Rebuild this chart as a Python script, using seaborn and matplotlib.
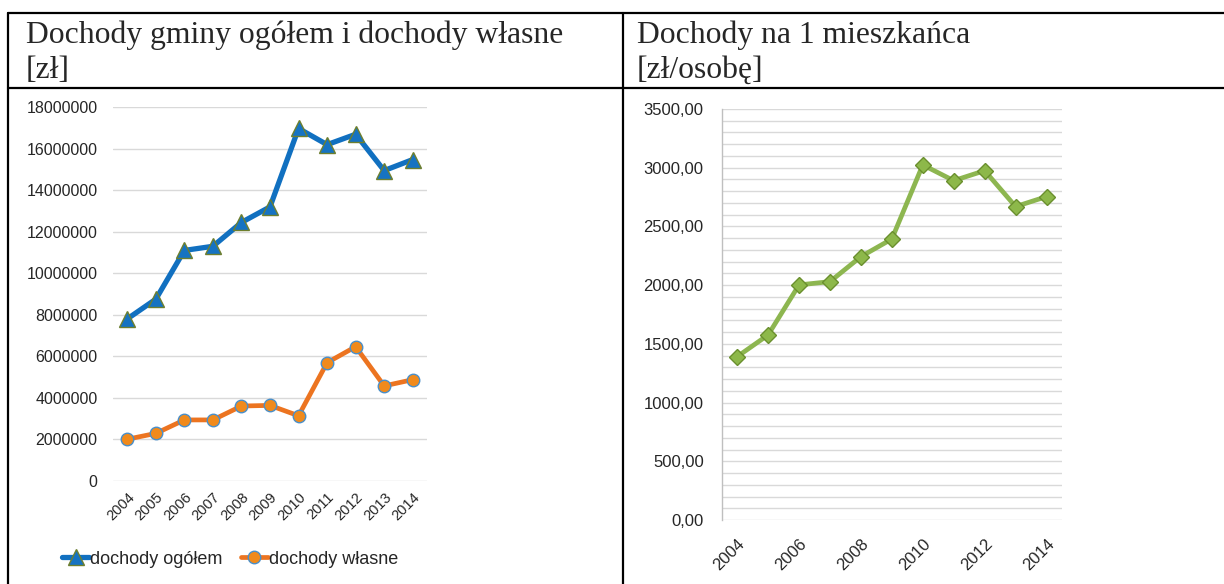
import numpy as np
import pandas as pd
import matplotlib.pyplot as plt
import matplotlib.ticker as mticker
from matplotlib.lines import Line2D
import seaborn as sns

# ─── Data ────────────────────────────────────────────────────────
years = [2004, 2005, 2006, 2007, 2008, 2009, 2010, 2011, 2012, 2013, 2014]
dochody_ogolem = [7800000, 8750000, 11100000, 11300000, 12450000, 13200000,
                  16980000, 16200000, 16700000, 14950000, 15480000]
dochody_wlasne = [2000000, 2280000, 2930000, 2930000, 3600000, 3630000,
                  3130000, 5690000, 6460000, 4570000, 4870000]
na_mieszkanca = [1391, 1576, 2002, 2030, 2243, 2393, 3024, 2890, 2975, 2669, 2754]

header_left = ["Dochody gminy ogółem i dochody własne", "[zł]"]
header_right = ["Dochody na 1 mieszkańca", "[zł/osobę]"]
legend_labels = ["dochody ogółem", "dochody własne"]

# ─── Theme ───────────────────────────────────────────────────────
sns.set_theme(style="white")
plt.rcParams["font.family"] = ["Liberation Sans", "DejaVu Sans"]
plt.rcParams["axes.facecolor"] = "white"

W, H = 1224, 584
fig = plt.figure(figsize=(W / 100, H / 100), dpi=100)


def fx(px):
    return px / W


def fy(py):
    return 1 - py / H


# ─── Table frame ─────────────────────────────────────────────────
lw_frame = 1.6
fig.add_artist(Line2D([fx(8), 1], [fy(13), fy(13)], color="black", lw=lw_frame))
fig.add_artist(Line2D([fx(8), 1], [fy(88), fy(88)], color="black", lw=lw_frame))
fig.add_artist(Line2D([fx(8), fx(8)], [fy(13), 0], color="black", lw=lw_frame))
fig.add_artist(Line2D([fx(623), fx(623)], [fy(13), 0], color="black", lw=lw_frame))

serif = ["Liberation Serif", "DejaVu Serif"]
for i, line in enumerate(header_left):
    fig.text(fx(26), fy(43 + 35 * i), line, family=serif, fontsize=22.8,
             va="baseline", ha="left")
for i, line in enumerate(header_right):
    fig.text(fx(637), fy(43 + 35 * i), line, family=serif, fontsize=22.8,
             va="baseline", ha="left")

# ─── Left chart ──────────────────────────────────────────────────
ax1 = fig.add_axes([fx(113), fy(480.7), fx(427) - fx(113), fy(107.3) - fy(480.7)])
df_left = pd.DataFrame({"rok": years, "ogolem": dochody_ogolem, "wlasne": dochody_wlasne})

sns.lineplot(data=df_left, x="rok", y="ogolem", ax=ax1, color="#1170C0", lw=3.8,
             marker="^", markersize=11, markerfacecolor="#1673C2",
             markeredgecolor="#6E7F2E", markeredgewidth=1.0, label=legend_labels[0])
sns.lineplot(data=df_left, x="rok", y="wlasne", ax=ax1, color="#EC7420", lw=3.4,
             marker="o", markersize=9, markerfacecolor="#F08A1C",
             markeredgecolor="#4A8FC9", markeredgewidth=1.0, label=legend_labels[1])

ax1.set_xlim(2003.5, 2014.5)
ax1.set_ylim(0, 18000000)
ax1.set_yticks(np.arange(0, 18000001, 2000000))
ax1.yaxis.set_major_formatter(mticker.FuncFormatter(lambda v, p: f"{int(v)}"))
ax1.set_xticks(years)
ax1.set_xticklabels([str(y) for y in years], rotation=45, ha="right",
                    rotation_mode="anchor", fontsize=10.5)
ax1.tick_params(axis="y", length=0, pad=11, labelsize=11.5, colors="#262626")
ax1.tick_params(axis="x", length=0, pad=7, colors="#262626")
ax1.grid(axis="y", color="#D9D9D9", lw=1)
ax1.set_axisbelow(True)
for s in ax1.spines.values():
    s.set_visible(False)
ax1.set_xlabel("")
ax1.set_ylabel("")
handles, labels = ax1.get_legend_handles_labels()
ax1.get_legend().remove()
fig.legend(handles, labels, loc="center", bbox_to_anchor=(fx(230), fy(559)),
           ncol=2, frameon=False, fontsize=13, handlelength=1.5,
           handletextpad=0.05, columnspacing=1.0)

# ─── Right chart ─────────────────────────────────────────────────
ax2 = fig.add_axes([fx(721.7), fy(520), fx(1062) - fx(721.7), fy(109) - fy(520)])
df_right = pd.DataFrame({"rok": years, "wartosc": na_mieszkanca})
sns.lineplot(data=df_right, x="rok", y="wartosc", ax=ax2, color="#8DB650", lw=3.4,
             marker="D", markersize=8.5, markerfacecolor="#8DB84A",
             markeredgecolor="#6A8F2E", markeredgewidth=1.0)

ax2.set_xlim(2003.5, 2014.5)
ax2.set_ylim(0, 3500)
ax2.set_yticks(np.arange(0, 3501, 500))
ax2.set_yticks(np.arange(0, 3501, 100), minor=True)
ax2.yaxis.set_major_formatter(
    mticker.FuncFormatter(lambda v, p: f"{v:.2f}".replace(".", ",")))
ax2.set_xticks(years[::2])
ax2.set_xticklabels([str(y) for y in years[::2]], rotation=45, ha="right",
                    rotation_mode="anchor", fontsize=12)
ax2.tick_params(axis="y", which="both", length=0, pad=13, labelsize=12,
                colors="#262626")
ax2.tick_params(axis="x", length=0, pad=12, colors="#262626")
ax2.grid(axis="y", which="both", color="#D9D9D9", lw=1)
ax2.set_axisbelow(True)
for name, s in ax2.spines.items():
    s.set_visible(name == "left")
ax2.spines["left"].set_color("#BFBFBF")
ax2.spines["left"].set_linewidth(1)
ax2.set_xlabel("")
ax2.set_ylabel("")

fig.savefig("out.png", dpi=100)
